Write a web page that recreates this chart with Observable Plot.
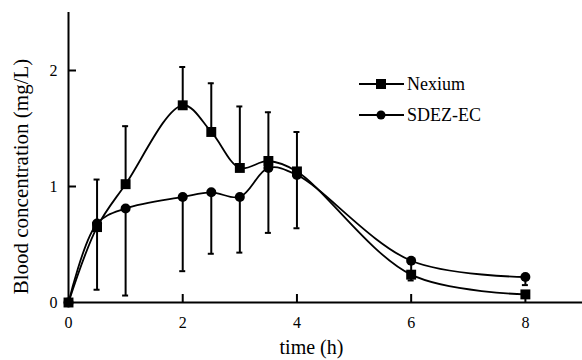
<!DOCTYPE html>
<html>
<head>
<meta charset="utf-8">
<style>
  html, body { margin: 0; padding: 0; background: #fff; }
  #wrap { position: relative; width: 582px; height: 360px; font-family: "Liberation Serif", "Times New Roman", "DejaVu Serif", serif; }
  #wrap svg text { font-family: "Liberation Serif", "Times New Roman", "DejaVu Serif", serif; }
  #legend { position: absolute; left: 358px; top: 68px; color: #000; }
  #legend .row { display: flex; align-items: center; height: 31px; white-space: nowrap; }
  #legend svg { margin-right: 3px; flex: none; }
  #legend .lab { display: inline-block; font-size: 36px; line-height: 36px; transform: scale(0.5); transform-origin: 0 50%; }
</style>
<script src="https://cdn.jsdelivr.net/npm/d3@7"></script>
<script src="https://cdn.jsdelivr.net/npm/@observablehq/plot@0.6"></script>
</head>
<body>
<div id="wrap">
  <div id="chart"></div>
  <div id="legend"></div>
</div>
<script>
// ---- data ----
const times = [0, 0.5, 1, 2, 2.5, 3, 3.5, 4, 6, 8];
const nexium = [0, 0.65, 1.02, 1.70, 1.47, 1.16, 1.22, 1.13, 0.24, 0.07];
const nexiumSD = [0, 0.41, 0.50, 0.33, 0.42, 0.53, 0.42, 0.34, 0.00, 0.00];
const sdez = [0, 0.68, 0.81, 0.91, 0.95, 0.91, 1.16, 1.10, 0.36, 0.22];
const sdezSD = [0, 0.57, 0.75, 0.64, 0.53, 0.48, 0.56, 0.46, 0.17, 0.07];
const seriesNames = ["Nexium", "SDEZ-EC"];
const xTicks = [0, 2, 4, 6, 8];
const yTicks = [0, 1, 2];

const rows = [];
times.forEach((t, i) => {
  rows.push({series: seriesNames[0], t, v: nexium[i], lo: nexium[i], hi: nexium[i] + nexiumSD[i]});
  rows.push({series: seriesNames[1], t, v: sdez[i], lo: sdez[i] - sdezSD[i], hi: sdez[i]});
});
const errRows = rows.filter(d => d.hi - d.lo > 0.001);
const capRows = [];
errRows.forEach(d => {
  if (d.series === seriesNames[0]) capRows.push({t: d.t, y: d.hi});
  else capRows.push({t: d.t, y: d.lo});
});

const font = '"Liberation Serif", "Times New Roman", "DejaVu Serif", serif';
const chart = Plot.plot({
  width: 582,
  height: 360,
  marginLeft: 68,
  marginRight: 0,
  marginTop: 12,
  marginBottom: 58,
  style: {fontFamily: font, background: "#fff", color: "#000"},
  x: {domain: [0, 9]},
  y: {domain: [0, 2.5]},
  marks: [
    Plot.axisX({ticks: xTicks, tickSize: 0, tickPadding: 14, fontSize: 16, label: null, tickFormat: d3.format("d")}),
    Plot.axisY({ticks: yTicks, tickSize: 0, tickPadding: 11, fontSize: 16, label: null, tickFormat: d3.format("d")}),
    Plot.ruleX(xTicks.filter(d => d > 0), {x: d => d, y1: 0, y2: 0, insetBottom: 8, stroke: "#000", strokeWidth: 2}),
    Plot.ruleY(yTicks.filter(d => d > 0), {y: d => d, x1: 0, x2: 0, insetRight: -8, stroke: "#000", strokeWidth: 2}),
    Plot.ruleX([0], {stroke: "#000", strokeWidth: 2}),
    Plot.ruleY([0], {stroke: "#000", strokeWidth: 2}),
    Plot.line(rows, {x: "t", y: "v", z: "series", curve: "catmull-rom", stroke: "#000", strokeWidth: 1.8}),
    Plot.ruleX(errRows, {x: "t", y1: "lo", y2: "hi", stroke: "#000", strokeWidth: 2}),
    Plot.ruleY(capRows, {y: "y", x1: "t", x2: "t", insetLeft: -3, insetRight: -3, stroke: "#000", strokeWidth: 2}),
    Plot.dot(rows.filter(d => d.series === seriesNames[1]), {x: "t", y: "v", symbol: "circle", r: 5, fill: "#000"}),
    Plot.dot(rows.filter(d => d.series === seriesNames[0]), {x: "t", y: "v", symbol: "square", r: 5.6, fill: "#000"}),
    Plot.text(["time (h)"], {frameAnchor: "bottom", textAnchor: "middle", dy: 45, dx: -14, fontSize: 20, lineAnchor: "middle", fill: "#000"}),
    Plot.text(["Blood concentration (mg/L)"], {frameAnchor: "left", textAnchor: "middle", rotate: -90, dx: -47, dy: 19, fontSize: 21, lineAnchor: "middle", fill: "#000"})
  ]
});
document.getElementById("chart").appendChild(chart);

// Render small text at double size, scaled back down, so the serif face is used.
chart.querySelectorAll("text").forEach(t => {
  const fs = parseFloat(getComputedStyle(t).fontSize);
  t.style.fontSize = (fs * 2) + "px";
  let tr = t.getAttribute("transform") || "";
  const x = t.getAttribute("x"), y = t.getAttribute("y");
  if (x !== null && !/em$/.test(x)) { tr += ` translate(${x},0)`; t.removeAttribute("x"); }
  if (y !== null && !/em$/.test(y)) { tr += ` translate(0,${y})`; t.removeAttribute("y"); }
  t.setAttribute("transform", (tr + " scale(0.5)").trim());
});

// ---- legend ----
const legend = document.getElementById("legend");
seriesNames.forEach((name, i) => {
  const row = document.createElement("div");
  row.className = "row";
  const sym = i === 0
    ? '<rect x="18" y="2" width="10" height="10" fill="#000"/>'
    : '<circle cx="23" cy="7" r="4.5" fill="#000"/>';
  row.innerHTML = `<svg width="46" height="14"><line x1="1" x2="46" y1="7" y2="7" stroke="#000" stroke-width="1.8"/>${sym}</svg><span class="lab">${name}</span>`;
  legend.appendChild(row);
});
</script>
</body>
</html>
